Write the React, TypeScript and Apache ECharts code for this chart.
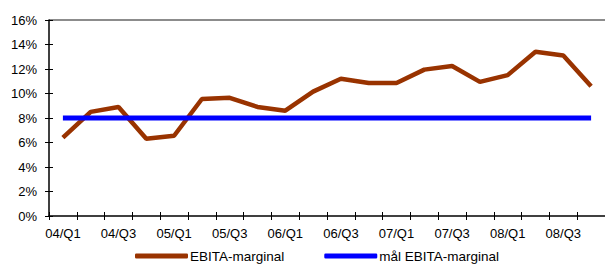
import React, { useEffect, useRef } from "react";
import * as echarts from "echarts";

const categories = [
  "04/Q1", "04/Q2", "04/Q3", "04/Q4",
  "05/Q1", "05/Q2", "05/Q3", "05/Q4",
  "06/Q1", "06/Q2", "06/Q3", "06/Q4",
  "07/Q1", "07/Q2", "07/Q3", "07/Q4",
  "08/Q1", "08/Q2", "08/Q3", "08/Q4",
];
const ebitaMargin = [
  6.4, 8.5, 8.9, 6.3, 6.55, 9.55, 9.65, 8.9, 8.6, 10.15,
  11.2, 10.85, 10.85, 11.95, 12.25, 10.95, 11.5, 13.4, 13.1, 10.6,
];
const targetMargin = categories.map(() => 8);
const seriesNames = ["EBITA-marginal", "mål EBITA-marginal"];

const FONT = "Liberation Sans, Arial, sans-serif";

export default function App() {
  const ref = useRef<HTMLDivElement>(null);
  useEffect(() => {
    if (!ref.current) return;
    const chart = echarts.init(ref.current, undefined, { renderer: "svg" });
    const axisLine = { show: true, lineStyle: { color: "#000", width: 1.5 } };
    const T = "rgba(0,0,0,0)";
    chart.setOption({
      animation: false,
      grid: { left: 49, top: 20, width: 560, height: 196, show: false },
      legend: {
        left: 130,
        top: 244,
        itemWidth: 53,
        itemHeight: 5,
        itemGap: 40,
        icon: "roundRect",
        textStyle: { fontFamily: FONT, fontSize: 13.5, color: "#000", padding: [0, 0, 0, -3] },
        data: seriesNames,
      },
      xAxis: [
        {
          type: "category",
          data: categories,
          boundaryGap: true,
          position: "bottom",
          axisLine,
          axisTick: { show: true, inside: false, length: 4, interval: 0, lineStyle: { color: "#000", width: 1 } },
          axisLabel: { interval: 1, margin: 11, fontFamily: FONT, fontSize: 13, color: "#000" },
          splitLine: { show: false },
        },
        {
          type: "category",
          data: categories,
          boundaryGap: true,
          position: "bottom",
          axisLine: { show: false },
          axisTick: { show: true, inside: true, length: 4, interval: 0, lineStyle: { color: "#000", width: 1 } },
          axisLabel: { show: false },
          splitLine: { show: false },
        },
      ],
      yAxis: [
        {
          type: "value",
          min: 0,
          max: 16,
          interval: 2,
          axisLine,
          axisTick: { show: true, inside: false, length: 4, lineStyle: { color: "#000", width: 1 } },
          axisLabel: { margin: 12, formatter: "{value}%", fontFamily: FONT, fontSize: 13, color: "#000" },
          splitLine: { show: false },
          z: 5,
        },
        {
          type: "value",
          min: 0,
          max: 16,
          interval: 2,
          position: "left",
          axisLine: { show: false },
          axisTick: { show: true, inside: true, length: 4, lineStyle: { color: "#000", width: 1 } },
          axisLabel: { show: false },
          splitLine: {
            show: true,
            lineStyle: { color: [T, T, T, T, T, T, T, T, "#8c8c8c"], width: 2 },
          },
        },
      ],
      series: [
        {
          name: seriesNames[0],
          type: "line",
          data: ebitaMargin,
          symbol: "none",
          lineStyle: { color: "#993300", width: 4.5 },
          itemStyle: { color: "#993300" },
          z: 3,
        },
        {
          name: seriesNames[1],
          type: "line",
          data: targetMargin,
          symbol: "none",
          lineStyle: { color: "#0000FF", width: 5 },
          itemStyle: { color: "#0000FF" },
          z: 4,
        },
      ],
    });
    return () => chart.dispose();
  }, []);
  return (
    <div
      ref={ref}
      style={{ position: "absolute", left: 0, top: 0, width: 605, height: 265, background: "#fff" }}
    />
  );
}
